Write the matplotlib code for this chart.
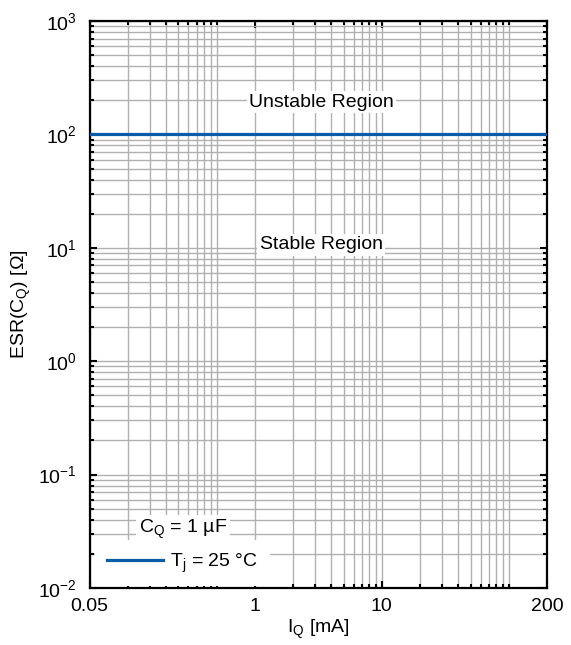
import numpy as np
import matplotlib.pyplot as plt
from matplotlib.ticker import FixedLocator, FixedFormatter, LogLocator, NullFormatter

plt.rcParams['font.family'] = ['Liberation Sans', 'DejaVu Sans']
plt.rcParams['mathtext.fontset'] = 'custom'
plt.rcParams['mathtext.rm'] = 'Liberation Sans'
plt.rcParams['mathtext.it'] = 'Liberation Sans'

# data
iq = [0.05, 200]
esr_limit = [100, 100]
xticks = [0.05, 1, 10, 200]
xtick_labels = ['0.05', '1', '10', '200']
yticks = [1e-2, 1e-1, 1e0, 1e1, 1e2, 1e3]
ytick_labels = [r'$10^{-2}$', r'$10^{-1}$', r'$10^{0}$', r'$10^{1}$', r'$10^{2}$', r'$10^{3}$']

FS = 14

fig = plt.figure(figsize=(5.71, 6.45), dpi=100)
ax = fig.add_axes([89.5/571, 57/645, 457.5/571, 567/645])

ax.set_xscale('log')
ax.set_yscale('log')
ax.set_xlim(0.05, 200)
ax.set_ylim(1e-2, 1e3)

ax.plot(iq, esr_limit, color='#0b5ca6', lw=2.3, label=r'T$_\mathregular{j}$ = 25 °C', zorder=3)

# minor ticks the way the original tool placed them (first decade counted from 0.05)
xminor = np.concatenate([0.05 * np.arange(2, 11), np.arange(2, 10), np.arange(20, 101, 10)])
ax.xaxis.set_major_locator(FixedLocator(xticks))
ax.xaxis.set_major_formatter(FixedFormatter(xtick_labels))
ax.xaxis.set_minor_locator(FixedLocator(xminor))
ax.xaxis.set_minor_formatter(NullFormatter())
ax.yaxis.set_major_locator(FixedLocator(yticks))
ax.yaxis.set_major_formatter(FixedFormatter(ytick_labels))
ax.yaxis.set_minor_locator(LogLocator(base=10, subs=np.arange(2, 10), numticks=40))
ax.yaxis.set_minor_formatter(NullFormatter())

ax.grid(True, which='both', color='#b0b0b0', lw=1.0)
ax.set_axisbelow(True)
ax.tick_params(which='both', direction='in', top=True, right=True, labelsize=FS, width=1.5)
ax.tick_params(which='major', length=5)
ax.tick_params(which='minor', length=3)
ax.tick_params(axis='x', pad=7)
ax.tick_params(axis='y', pad=9)
for s in ax.spines.values():
    s.set_linewidth(1.6)

ax.set_xlabel(r'I$_\mathregular{Q}$ [mA]', fontsize=FS, labelpad=2)
ax.set_ylabel(r'ESR(C$_\mathregular{Q}$) [Ω]', fontsize=FS, labelpad=4)

box = dict(facecolor='white', edgecolor='none', pad=1.5)
ax.text(3.33, 193, 'Unstable Region', ha='center', va='center', fontsize=FS, bbox=box)
ax.text(3.33, 10.6, 'Stable Region', ha='center', va='center', fontsize=FS, bbox=box)

# legend title drawn as its own label, white only behind the text
ax.text(0.108, 0.097, r'C$_\mathregular{Q}$ = 1 µF', transform=ax.transAxes, ha='left', va='baseline',
        fontsize=FS, bbox=dict(facecolor='white', edgecolor='none', pad=2), zorder=4)

leg = ax.legend(loc='lower left', bbox_to_anchor=(0.012, 0.003), fontsize=FS,
                frameon=True, fancybox=False, edgecolor='none', framealpha=1,
                handlelength=2.9, handletextpad=0.35, borderpad=0.6, borderaxespad=0)

fig.savefig('out.png', dpi=100)
